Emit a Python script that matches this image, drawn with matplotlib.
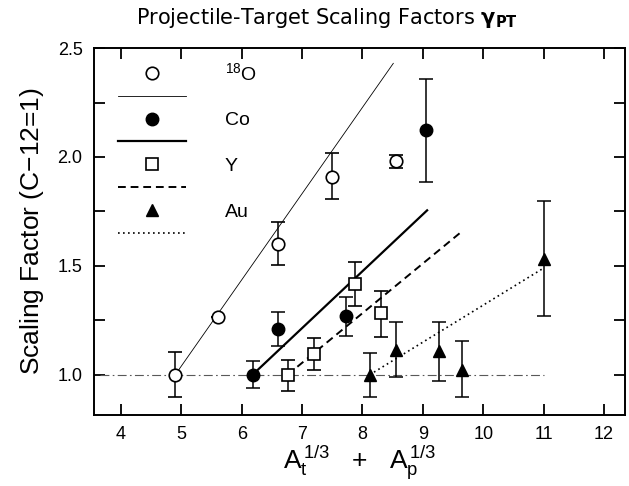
import numpy as np
import matplotlib
matplotlib.use("Agg")
import matplotlib.pyplot as plt
from matplotlib.lines import Line2D
from matplotlib.legend_handler import HandlerLine2D
from matplotlib.ticker import MultipleLocator

plt.rcParams['font.family'] = ['Liberation Sans', 'DejaVu Sans']
plt.rcParams['mathtext.fontset'] = 'custom'
plt.rcParams['mathtext.rm'] = 'Liberation Sans'
plt.rcParams['mathtext.it'] = 'Liberation Sans'

# 18O projectile
o_x = [4.9, 5.6, 6.6, 7.5, 8.55]
o_y = [1.0, 1.265, 1.60, 1.91, 1.98]
o_lo = [0.10, 0.0, 0.095, 0.105, 0.03]
o_hi = [0.105, 0.0, 0.10, 0.11, 0.03]
o_fit_x = [4.9, 8.51]
o_fit_y = [1.0, 2.43]

# Co
co_x = [6.18, 6.6, 7.72, 9.05]
co_y = [1.0, 1.21, 1.27, 2.125]
co_lo = [0.06, 0.08, 0.09, 0.24]
co_hi = [0.065, 0.08, 0.085, 0.235]
co_fit_x = [6.18, 9.07]
co_fit_y = [1.0, 1.755]

# Y
y_x = [6.76, 7.19, 7.88, 8.30]
y_y = [1.0, 1.097, 1.417, 1.285]
y_lo = [0.075, 0.077, 0.10, 0.11]
y_hi = [0.07, 0.073, 0.103, 0.10]
y_fit_x = [6.76, 9.64]
y_fit_y = [1.0, 1.657]

# Au
au_x = [8.12, 8.55, 9.26, 9.65, 11.0]
au_y = [1.0, 1.115, 1.107, 1.023, 1.53]
au_lo = [0.10, 0.125, 0.137, 0.123, 0.26]
au_hi = [0.10, 0.125, 0.133, 0.13, 0.27]
au_fit_x = [8.12, 11.0]
au_fit_y = [1.0, 1.49]

ref_x = [3.65, 11.0]
ref_y = [1.0, 1.0]


class RightMarker(HandlerLine2D):
    def get_xdata(self, legend, xdescent, ydescent, width, height, fontsize):
        xd = np.array([-xdescent, -xdescent + width])
        xm = np.array([-xdescent + 0.79 * width])
        return xd, xm


fig = plt.figure(figsize=(6.29, 4.86), dpi=100)
ax = fig.add_axes([0.149, 0.146, 0.845, 0.755])

ax.plot(ref_x, ref_y, color='0.35', lw=0.8, dashes=(8, 3, 1.5, 3))
ax.plot(o_fit_x, o_fit_y, color='black', lw=0.6)
ax.plot(co_fit_x, co_fit_y, color='black', lw=1.6)
ax.plot(y_fit_x, y_fit_y, color='black', lw=1.4, dashes=(4, 2.5))
ax.plot(au_fit_x, au_fit_y, color='black', lw=1.2, dashes=(1, 2))

ms = 9
ekw = dict(ecolor='black', elinewidth=1.1, capsize=5, capthick=1.1, ls='none')
ax.errorbar(o_x, o_y, yerr=[o_lo, o_hi], marker='o', ms=ms, mfc='white',
            mec='black', mew=1.2, **ekw)
ax.errorbar(co_x, co_y, yerr=[co_lo, co_hi], marker='o', ms=ms, mfc='black',
            mec='black', **ekw)
ax.errorbar(y_x, y_y, yerr=[y_lo, y_hi], marker='s', ms=ms - 0.5, mfc='white',
            mec='black', mew=1.2, **ekw)
ax.errorbar(au_x, au_y, yerr=[au_lo, au_hi], marker='^', ms=ms, mfc='black',
            mec='black', **ekw)

ax.set_xlim(3.55, 12.35)
ax.set_ylim(0.815, 2.5)
ax.xaxis.set_major_locator(MultipleLocator(1))
ax.yaxis.set_major_locator(MultipleLocator(0.5))
ax.yaxis.set_minor_locator(MultipleLocator(0.25))
ax.tick_params(which='both', direction='in', top=True, right=True,
               labelsize=13, width=1.3, pad=8)
ax.tick_params(which='major', length=8)
ax.tick_params(which='minor', length=8)
ax.set_xticks(range(4, 13))
ax.set_yticks([1.0, 1.5, 2.0, 2.5])
ax.set_yticklabels(['1.0', '1.5', '2.0', '2.5'])
for s in ax.spines.values():
    s.set_linewidth(1.4)

ax.set_ylabel('Scaling Factor (C$-$12=1)', fontsize=19, labelpad=8)
ax.set_xlabel(r'$\mathrm{A_t^{\,1/3}}$   +   $\mathrm{A_p^{\,1/3}}$', fontsize=19,
              labelpad=0)
fig.text(0.52, 0.963, r'Projectile-Target Scaling Factors $\mathbf{\gamma_{PT}}$',
         ha='center', va='center', fontsize=15, family='DejaVu Sans')

handles = [
    Line2D([], [], ls='none', marker='o', ms=ms, mfc='white', mec='black', mew=1.2),
    Line2D([], [], color='black', lw=0.6),
    Line2D([], [], ls='none', marker='o', ms=ms, mfc='black', mec='black'),
    Line2D([], [], color='black', lw=1.6),
    Line2D([], [], ls='none', marker='s', ms=ms - 0.5, mfc='white', mec='black', mew=1.2),
    Line2D([], [], color='black', lw=1.4, dashes=(4, 2.5)),
    Line2D([], [], ls='none', marker='^', ms=ms, mfc='black', mec='black'),
    Line2D([], [], color='black', lw=1.2, dashes=(1, 2)),
]
labels = ['$^{18}$O', '', 'Co', '', 'Y', '', 'Au', '']
ax.legend(handles, labels, loc='upper left', frameon=False, fontsize=14,
          handlelength=3.5, handletextpad=2.0, labelspacing=0.27,
          borderaxespad=0.3, bbox_to_anchor=(0.02, 1.0),
          handler_map={Line2D: RightMarker()})

fig.savefig('out.png', dpi=100)
